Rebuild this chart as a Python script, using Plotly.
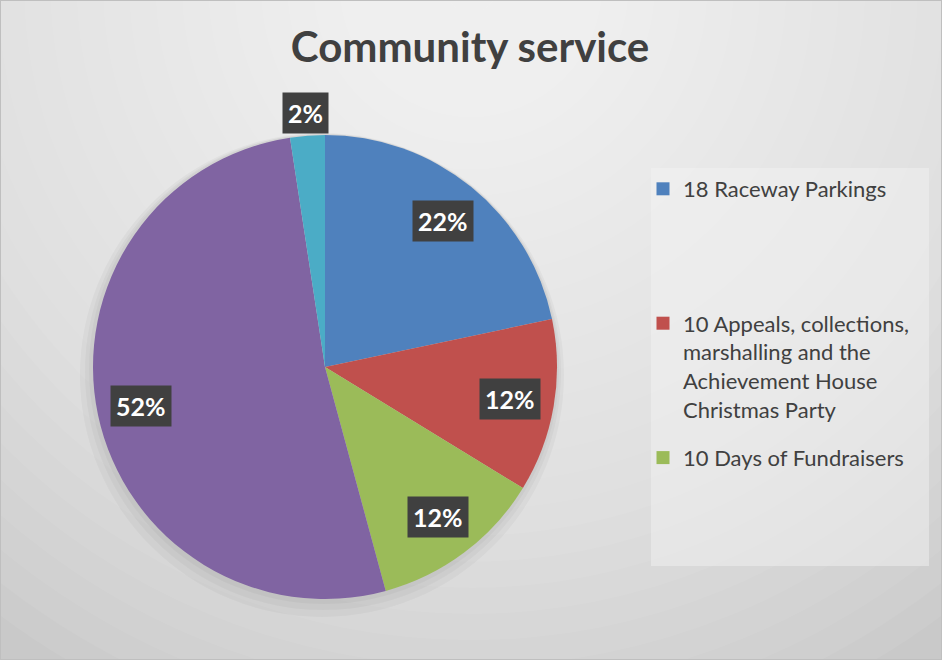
import math
import plotly.graph_objects as go

title = "Community service"
slice_names = ["18 Raceway Parkings",
               "10 Appeals, collections, marshalling and the Achievement House Christmas Party",
               "10 Days of Fundraisers",
               "Other activities",
               "Other"]
values = [18, 10, 10, 43, 2]
colors = ["#4F81BD", "#C0504D", "#9BBB59", "#8064A2", "#4BACC6"]

# only three entries fit in the legend box of the original
legend_text = ["18 Raceway Parkings<br> <br> <br> ",
               "10 Appeals, collections,<br>marshalling and the<br>Achievement House<br>Christmas Party",
               "10 Days of Fundraisers"]

W, H = 942, 660
cx, cy, R = 325, 367, 232   # pie centre / radius in pixels

fig = go.Figure()

fig.add_trace(go.Pie(
    labels=slice_names,
    values=values,
    sort=False,
    direction="clockwise",
    rotation=0,
    marker=dict(colors=colors, line=dict(width=0)),
    textinfo="none",
    hoverinfo="label+percent",
    showlegend=False,
    domain=dict(x=[(cx - R) / W, (cx + R) / W], y=[1 - (cy + R) / H, 1 - (cy - R) / H]),
))

for i in range(3):
    fig.add_trace(go.Scatter(
        x=[None], y=[None], mode="markers", name=legend_text[i],
        legendgroup=str(i),
        marker=dict(symbol="square", size=13, color=colors[i]),
    ))

# data labels in dark boxes, placed from the slice angles
total = sum(values)
cum = 0
annotations = []
for v in values:
    frac = v / total
    mid = (cum + frac / 2) * 2 * math.pi
    cum += frac
    r = R * (1.1 if frac < 0.05 else 0.81)
    px = cx + r * math.sin(mid)
    py = cy - r * math.cos(mid)
    annotations.append(dict(
        x=px / W, y=1 - py / H, xref="paper", yref="paper",
        xanchor="center", yanchor="middle",
        text="<b>%d%%</b>" % round(frac * 100), showarrow=False,
        font=dict(family="Lato", size=25, color="white"),
        bgcolor="#404040", borderpad=5,
    ))

# soft radial background
shapes = []
n = 30
for k in range(n):
    s = 1.35 * (n - k) / n
    shapes.append(dict(
        type="circle", xref="paper", yref="paper", layer="below",
        x0=0.5 - s * 0.62, x1=0.5 + s * 0.62,
        y0=1.02 - s * 0.88, y1=1.02 + s * 0.88,
        fillcolor="white", opacity=0.06, line=dict(width=0),
    ))
# faint shadow under the pie
for grow, dx, dy in [(10, -3, 8), (6, -2, 5), (3, -1, 2)]:
    shapes.append(dict(
        type="circle", xref="paper", yref="paper", layer="below",
        x0=(cx + dx - R - grow) / W, x1=(cx + dx + R + grow) / W,
        y0=1 - (cy + dy + R + grow) / H, y1=1 - (cy + dy - R - grow) / H,
        fillcolor="black", opacity=0.03, line=dict(width=0),
    ))
shapes.append(dict(
    type="rect", xref="paper", yref="paper", layer="below",
    x0=651 / W, x1=929 / W, y0=1 - 566 / H, y1=1 - 168 / H,
    fillcolor="rgba(245,245,245,0.45)", line=dict(width=0),
))
shapes.append(dict(
    type="rect", xref="paper", yref="paper", layer="above",
    x0=0, x1=1, y0=0, y1=1, line=dict(color="#bfbfbf", width=2),
))

fig.update_layout(
    width=W, height=H,
    margin=dict(l=0, r=0, t=0, b=0),
    paper_bgcolor="#c9c9c9",
    plot_bgcolor="rgba(0,0,0,0)",
    xaxis=dict(visible=False),
    yaxis=dict(visible=False),
    title=dict(text="<b>" + title + "</b>", x=0.499, xanchor="center",
               y=1 - 47 / H, yanchor="middle",
               font=dict(family="Lato", size=42, color="#404040")),
    legend=dict(x=643 / W, y=1 - 168 / H, xanchor="left", yanchor="top",
                valign="top", tracegroupgap=17, bgcolor="rgba(0,0,0,0)",
                font=dict(family="Lato", size=22, color="#404040")),
    annotations=annotations,
    shapes=shapes,
)

fig.write_html("out.html", config={"displayModeBar": False},
               post_script="document.body.style.margin='0';")
